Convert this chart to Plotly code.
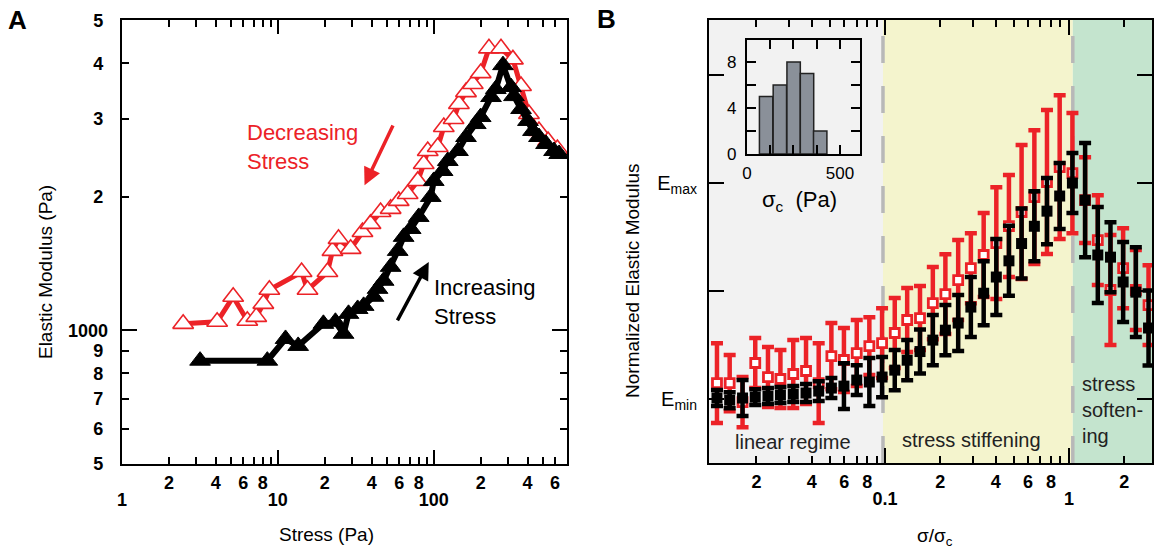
import plotly.graph_objects as go

FONT = "Liberation Sans, Arial, sans-serif"
RED = "#ec2227"

# ---------------- Panel A data ----------------
inc_stress = [3.17, 8.56, 11.2, 13.5, 19.6, 23.4, 26.4, 28.4, 32.5, 35.5, 41.1, 43.6, 47.7,
              52.9, 58.7, 64.1, 71.1, 80.1, 95.7, 100, 114, 123, 143, 161, 186, 200, 233,
              250, 278, 313, 327, 363, 402, 433, 473, 525, 591, 637]
inc_modulus = [854, 854, 956, 922, 1034, 1045, 982, 1089, 1117, 1135, 1190, 1240, 1293,
               1390, 1510, 1624, 1692, 1801, 1998, 2171, 2286, 2408, 2536, 2727, 2917, 3025,
               3356, 3498, 3960, 3534, 3372, 3154, 2964, 2814, 2727, 2630, 2536, 2497]
dec_stress = [2.47, 4.08, 5.17, 6.37, 7.27, 8.07, 8.82, 14.2, 15.5, 20.8, 22.4, 24.5, 29.3,
              34.9, 39.3, 45.6, 52.9, 59.6, 68.0, 78.9, 86.2, 91.5, 106, 116, 134, 145, 161,
              178, 200, 226, 270, 322, 363, 408, 473, 541, 621]
dec_modulus = [1034, 1045, 1190, 1051, 1072, 1147, 1234, 1353, 1234, 1353, 1510, 1607, 1526,
               1666, 1737, 1848, 1878, 1957, 2029, 2171, 2371, 2536, 2589, 2872, 2994, 3236,
               3443, 3591, 3800, 4320, 4320, 4080, 3553, 3073, 2814, 2671, 2562]

a_x_minor_vals = [2, 3, 4, 5, 6, 7, 8, 9, 20, 30, 40, 50, 60, 70, 80, 90, 200, 300, 400, 500, 600]
a_x_minor_text = ["2", "", "4", "", "6", "", "8", "", "2", "", "4", "", "6", "", "8", "",
                  "2", "", "4", "", "6"]
a_x_major_vals = [1, 10, 100]
a_x_major_text = ["1", "10", "100"]
a_y_minor_vals = [500, 600, 700, 800, 900, 2000, 3000, 4000, 5000]
a_y_minor_text = ["5", "6", "7", "8", "9", "2", "3", "4", "5"]
a_y_major_vals = [1000]
a_y_major_text = ["1000"]

# ---------------- Panel B data ----------------
ratio = [0.0122, 0.0143, 0.0168, 0.0197, 0.0231, 0.0270, 0.0317, 0.0372, 0.0436, 0.0511,
         0.0598, 0.0702, 0.0822, 0.0964, 0.113, 0.132, 0.155, 0.182, 0.213, 0.250,
         0.293, 0.344, 0.403, 0.472, 0.553, 0.649, 0.760, 0.891, 1.045, 1.225,
         1.436, 1.683, 1.972, 2.312, 2.710]
dec_norm = [0.074, 0.074, -0.014, 0.167, 0.102, 0.093, 0.116, 0.130, 0.074, 0.199,
            0.181, 0.213, 0.245, 0.259, 0.306, 0.366, 0.375, 0.444, 0.486, 0.551,
            0.606, 0.667, 0.722, 0.801, 0.866, 0.935, 1.005, 1.074, 1.046, 0.921,
            0.736, 0.505, 0.606, 0.505, 0.435]
dec_err = [0.185, 0.13, 0.116, 0.116, 0.139, 0.134, 0.157, 0.153, 0.185, 0.153,
           0.148, 0.153, 0.134, 0.162, 0.162, 0.148, 0.148, 0.167, 0.185, 0.185,
           0.162, 0.194, 0.259, 0.236, 0.310, 0.310, 0.333, 0.333, 0.278, 0.199,
           0.208, 0.255, 0.185, 0.185, 0.185]
inc_norm = [0.005, -0.005, 0.005, 0.009, 0.014, 0.019, 0.023, 0.028, 0.037, 0.051,
            0.060, 0.088, 0.079, 0.102, 0.134, 0.18, 0.22, 0.273, 0.319, 0.352,
            0.426, 0.49, 0.565, 0.64, 0.72, 0.80, 0.87, 0.94, 1.000, 0.921,
            0.667, 0.657, 0.542, 0.495, 0.329]
inc_err = [0.037, 0.037, 0.083, 0.037, 0.037, 0.037, 0.037, 0.042, 0.046, 0.046,
           0.106, 0.069, 0.111, 0.093, 0.093, 0.093, 0.102, 0.116, 0.116, 0.130,
           0.139, 0.148, 0.176, 0.162, 0.162, 0.162, 0.153, 0.153, 0.139, 0.264,
           0.222, 0.162, 0.185, 0.208, 0.174]

b_x_minor_vals = [0.02, 0.03, 0.04, 0.05, 0.06, 0.07, 0.08, 0.09,
                  0.2, 0.3, 0.4, 0.5, 0.6, 0.7, 0.8, 0.9, 2]
b_x_minor_text = ["2", "", "4", "", "6", "", "8", "", "2", "", "4", "", "6", "", "8", "", "2"]
b_x_major_vals = [0.1, 1]
b_x_major_text = ["0.1", "1"]
b_y_vals = [0, 0.5, 1, 1.5]
b_y_text = ["E<sub>min</sub>", "", "E<sub>max</sub>", ""]

regime_edges = [0.0975, 1.05]

# inset histogram
sigma_c_bins = [103, 177, 251, 323, 394]
sigma_c_counts = [5, 6, 8, 7, 2]
inset_x_vals = [0, 125, 250, 375, 500]
inset_x_text = ["0", "", "", "", "500"]
inset_y_vals = [0, 2, 4, 6, 8]
inset_y_text = ["0", "", "4", "", "8"]

fig = go.Figure()

# Panel A traces (black drawn on the overlay subplot so it sits on top)
fig.add_trace(go.Scatter(x=dec_stress, y=dec_modulus, mode="lines+markers", xaxis="x", yaxis="y",
                         line=dict(color=RED, width=5),
                         marker=dict(symbol="triangle-up", size=18, color="white",
                                     line=dict(color=RED, width=1.6))))
fig.add_trace(go.Scatter(x=inc_stress, y=inc_modulus, mode="lines+markers", xaxis="x4", yaxis="y4",
                         line=dict(color="black", width=6),
                         marker=dict(symbol="triangle-up", size=18, color="black",
                                     line=dict(color="black", width=1))))

# Panel B traces
fig.add_trace(go.Scatter(x=ratio, y=dec_norm, mode="markers", xaxis="x2", yaxis="y2",
                         error_y=dict(type="data", array=dec_err, color=RED, thickness=4.5, width=6),
                         marker=dict(symbol="square", size=9, color="white",
                                     line=dict(color=RED, width=2.8))))
fig.add_trace(go.Scatter(x=ratio, y=inc_norm, mode="markers", xaxis="x5", yaxis="y5",
                         error_y=dict(type="data", array=inc_err, color="black", thickness=4.5, width=6),
                         marker=dict(symbol="square", size=11, color="black")))

# Inset histogram
fig.add_trace(go.Bar(x=sigma_c_bins, y=sigma_c_counts, width=72, xaxis="x3", yaxis="y3",
                     marker=dict(color="#8a9099", line=dict(color="#222222", width=1.5))))

bold_tick = dict(family=FONT, size=18, color="black", weight="bold")
common = dict(showgrid=False, zeroline=False, ticks="inside", tickwidth=2, tickcolor="black",
              mirror="allticks", automargin=False)

A_XR = [0, 2.855]
A_YR = [2.6985, 3.6995]
B_XR = [-1.957, 0.452]
B_YR = [-0.296, 1.755]

fig.update_layout(
    width=1157, height=552, margin=dict(l=0, r=0, t=0, b=0, autoexpand=False),
    paper_bgcolor="white", plot_bgcolor="rgba(0,0,0,0)", showlegend=False,
    font=dict(family=FONT, color="black"),
    xaxis=dict(type="log", range=A_XR, domain=[0.1054, 0.4901], anchor="y",
               showline=True, linewidth=2, linecolor="black", ticklen=7,
               tickvals=a_x_minor_vals, ticktext=a_x_minor_text, tickfont=bold_tick,
               ticklabelstandoff=1, **common),
    xaxis4=dict(type="log", range=A_XR, overlaying="x", anchor="y4", side="bottom",
                showline=False, ticklen=14, tickvals=a_x_major_vals, ticktext=a_x_major_text,
                tickfont=bold_tick, ticklabelstandoff=23, **common),
    yaxis=dict(type="log", range=A_YR, domain=[0.1594, 0.9638], anchor="x",
               showline=True, linewidth=2, linecolor="black", ticklen=7,
               tickvals=a_y_minor_vals, ticktext=a_y_minor_text, tickfont=bold_tick,
               ticklabelstandoff=13, **common),
    yaxis4=dict(type="log", range=A_YR, overlaying="y", anchor="x4", side="left",
                showline=False, ticklen=15, tickvals=a_y_major_vals, ticktext=a_y_major_text,
                tickfont=bold_tick, ticklabelstandoff=13, **common),
    xaxis2=dict(type="log", range=B_XR, domain=[0.6128, 0.9957], anchor="y2",
                showline=True, linewidth=2, linecolor="black", ticklen=7,
                tickvals=b_x_minor_vals, ticktext=b_x_minor_text, tickfont=bold_tick,
                ticklabelstandoff=1, **common),
    xaxis5=dict(type="log", range=B_XR, overlaying="x2", anchor="y5", side="bottom",
                showline=False, ticklen=15, tickvals=b_x_major_vals, ticktext=b_x_major_text,
                tickfont=bold_tick, ticklabelstandoff=23, **common),
    yaxis2=dict(range=B_YR, domain=[0.1612, 0.9638], anchor="x2",
                showline=True, linewidth=2, linecolor="black", ticklen=15,
                tickvals=b_y_vals, ticktext=b_y_text,
                tickfont=dict(family=FONT, size=20, color="black"),
                ticklabelstandoff=6, **common),
    yaxis5=dict(range=B_YR, overlaying="y2", anchor="x5", side="left", showline=False,
                showticklabels=False, showgrid=False, zeroline=False, ticks="", automargin=False),
    xaxis3=dict(range=[0, 608], domain=[0.6456, 0.7433], anchor="y3",
                showline=True, linewidth=2, linecolor="black", ticklen=9,
                tickvals=inset_x_vals, ticktext=inset_x_text,
                tickfont=dict(family=FONT, size=17, color="black"),
                ticklabelstandoff=3, **common),
    yaxis3=dict(range=[0, 9.9], domain=[0.7210, 0.9275], anchor="x3",
                showline=True, linewidth=2, linecolor="black", ticklen=9,
                tickvals=inset_y_vals, ticktext=inset_y_text,
                tickfont=dict(family=FONT, size=17, color="black"),
                ticklabelstandoff=5, **common),
)

# Regime backgrounds in panel B
shapes = [
    dict(type="rect", xref="x2", yref="y2 domain", x0=0.001, x1=regime_edges[0], y0=0, y1=1,
         fillcolor="#f2f2f2", line=dict(width=0), layer="below"),
    dict(type="rect", xref="x2", yref="y2 domain", x0=regime_edges[0], x1=regime_edges[1], y0=0, y1=1,
         fillcolor="#f4f4cd", line=dict(width=0), layer="below"),
    dict(type="rect", xref="x2", yref="y2 domain", x0=regime_edges[1], x1=100, y0=0, y1=1,
         fillcolor="#c4e4ce", line=dict(width=0), layer="below"),
]
for e in regime_edges:
    shapes.append(dict(type="line", xref="x2", yref="y2 domain", x0=e, x1=e, y0=0, y1=1,
                       line=dict(color="#b8b8b8", width=3.5, dash="27px,23px"), layer="below"))
fig.update_layout(shapes=shapes)

ann = []
ann.append(dict(text="<b>A</b>", x=0.0147, y=0.9638, xref="paper", yref="paper", showarrow=False,
                font=dict(size=26, family=FONT), xanchor="center", yanchor="middle"))
ann.append(dict(text="<b>B</b>", x=0.5238, y=0.9656, xref="paper", yref="paper", showarrow=False,
                font=dict(size=26, family=FONT), xanchor="center", yanchor="middle"))
ann.append(dict(text="Elastic Modulus (Pa)", x=0.0389, y=0.5072, xref="paper", yref="paper",
                textangle=-90, showarrow=False, font=dict(size=19, family=FONT),
                xanchor="center", yanchor="middle"))
ann.append(dict(text="Stress (Pa)", x=0.2818, y=0.0308, xref="paper", yref="paper",
                showarrow=False, font=dict(size=19, family=FONT), xanchor="center", yanchor="middle"))
ann.append(dict(text="Normalized Elastic Modulus", x=0.5471, y=0.491, xref="paper", yref="paper",
                textangle=-90, showarrow=False, font=dict(size=19, family=FONT),
                xanchor="center", yanchor="middle"))
ann.append(dict(text="σ/σ<sub>c</sub>", x=0.8081, y=0.028, xref="paper", yref="paper",
                showarrow=False, font=dict(size=19, family=FONT), xanchor="center", yanchor="middle"))
ann.append(dict(text="σ<sub>c</sub>  (Pa)", x=0.6914, y=0.635, xref="paper", yref="paper",
                showarrow=False, font=dict(size=22, family=FONT), xanchor="center", yanchor="middle"))
ann.append(dict(text="Decreasing<br>Stress", x=0.2118, y=0.7346, xref="paper", yref="paper",
                showarrow=False, align="left", font=dict(size=22, family=FONT, color=RED),
                xanchor="left", yanchor="middle"))
ann.append(dict(text="Increasing<br>Stress", x=0.3734, y=0.4529, xref="paper", yref="paper",
                showarrow=False, align="left", font=dict(size=22, family=FONT, color="black"),
                xanchor="left", yanchor="middle"))
ann.append(dict(text="", x=1.556, y=3.327, ax=1.743, ay=3.465, xref="x", yref="y", axref="x", ayref="y",
                showarrow=True, arrowhead=2, arrowsize=1, arrowwidth=3.5, arrowcolor=RED))
ann.append(dict(text="", x=1.968, y=3.154, ax=1.762, ay=3.019, xref="x", yref="y", axref="x", ayref="y",
                showarrow=True, arrowhead=2, arrowsize=1, arrowwidth=3.5, arrowcolor="black"))
ann.append(dict(text="linear regime", x=0.6854, y=0.1993, xref="paper", yref="paper",
                showarrow=False, font=dict(size=20, family=FONT, color="#222"), xanchor="center", yanchor="middle"))
ann.append(dict(text="stress stiffening", x=0.8401, y=0.2029, xref="paper", yref="paper",
                showarrow=False, font=dict(size=20, family=FONT, color="#222"), xanchor="center", yanchor="middle"))
ann.append(dict(text="stress<br>soften-<br>ing", x=0.9334, y=0.2572, xref="paper", yref="paper",
                showarrow=False, align="left", font=dict(size=20, family=FONT, color="#222"),
                xanchor="left", yanchor="middle"))
fig.update_layout(annotations=ann)

fig.write_html("out.html")
